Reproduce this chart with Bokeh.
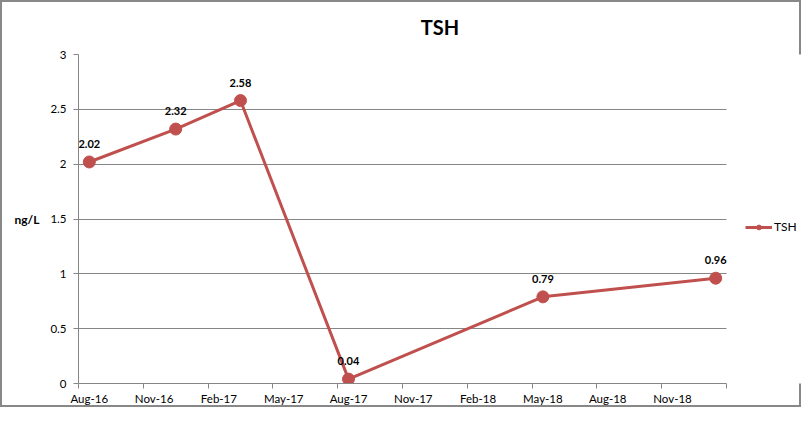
from bokeh.plotting import figure
from bokeh.models import (Range1d, FixedTicker, Legend, LegendItem,
                          ColumnDataSource)
from bokeh.core.properties import value
from bokeh.embed import file_html
from bokeh.resources import INLINE

# ---- data ----
sample_months = ["2016-08", "2016-12", "2017-03", "2017-08", "2018-05", "2019-01"]
tsh_values = [2.02, 2.32, 2.58, 0.04, 0.79, 0.96]
x_tick_labels = ["Aug-16", "Nov-16", "Feb-17", "May-17", "Aug-17",
                 "Nov-17", "Feb-18", "May-18", "Aug-18", "Nov-18"]
y_ticks = [0, 0.5, 1, 1.5, 2, 2.5, 3]
y_tick_labels = ["0", "0.5", "1", "1.5", "2", "2.5", "3"]
axis_start = (2016, 8)
axis_months = 30

def month_index(s):
    y, m = s.split("-")
    return (int(y) - axis_start[0]) * 12 + int(m) - axis_start[1]

xs = [month_index(s) + 0.5 for s in sample_months]
src = ColumnDataSource(dict(x=xs, y=tsh_values,
                            lbl=["%.2f" % v for v in tsh_values]))

RED = "#C0504D"
GRID = "#868686"
FONT = "Lato"

# layout: plot area 78..726 px for the 30 months; frame continues to the
# right edge so the legend can sit beside the axis without being clipped
W, H = 801, 407
LEFT, AXIS_LEN = 78, 648
x_end = axis_months * (W - LEFT) / AXIS_LEN

p = figure(width=W, height=H, output_backend="svg", toolbar_location=None,
           x_range=Range1d(0, x_end), y_range=Range1d(0, 3),
           min_border_left=LEFT, min_border_right=0, min_border_top=54,
           min_border_bottom=23, title="TSH")
p.outline_line_color = None
p.background_fill_color = "white"
p.border_fill_alpha = 0
p.styles = {"background": "white",
            "box-shadow": "inset 0 0 0 2px #888888"}

p.title.align = "center"
p.title.vertical_align = "top"
p.title.standoff = 28
p.title.background_fill_alpha = 0
p.title.text_font = FONT
p.title.text_font_size = "20px"
p.title.text_font_style = "bold"
p.title.text_color = "black"

# grid
p.xgrid.visible = False
p.ygrid.ticker = FixedTicker(ticks=y_ticks)
p.ygrid.grid_line_color = GRID
p.ygrid.grid_line_width = 1
p.ygrid.cross_bounds = (0, axis_months)

# y axis
ya = p.yaxis[0]
ya.ticker = FixedTicker(ticks=y_ticks)
ya.major_label_overrides = {t: l for t, l in zip(y_ticks, y_tick_labels)}
ya.axis_line_color = GRID
ya.major_tick_line_color = GRID
ya.major_tick_in = 0
ya.major_tick_out = 5
ya.minor_tick_line_color = None
ya.major_label_standoff = 7
ya.major_label_text_font = FONT
ya.major_label_text_font_size = "11.5px"
ya.major_label_text_color = "black"
ya.axis_label = "ng/L"
ya.axis_label_orientation = "horizontal"
ya.axis_label_text_font = FONT
ya.axis_label_text_font_size = "12px"
ya.axis_label_text_font_style = "bold"
ya.axis_label_text_color = "black"
ya.axis_label_standoff = 8

# x axis: labels centred in the month slot, tick marks at the slot edges
label_pos = [i * 3 + 0.5 for i in range(len(x_tick_labels))]
tick_pos = [i * 3 for i in range(len(x_tick_labels) + 1)]
xa = p.xaxis[0]
xa.bounds = (0, axis_months)
xa.ticker = FixedTicker(ticks=label_pos, minor_ticks=tick_pos)
xa.major_label_overrides = {t: l for t, l in zip(label_pos, x_tick_labels)}
xa.axis_line_color = GRID
xa.major_tick_line_color = None
xa.major_tick_in = 0
xa.major_tick_out = 0
xa.minor_tick_line_color = GRID
xa.minor_tick_in = 0
xa.minor_tick_out = 5
xa.major_label_standoff = 3
xa.major_label_text_font = FONT
xa.major_label_text_font_size = "11.5px"
xa.major_label_text_color = "black"

# series
lr = p.line("x", "y", source=src, line_color=RED, line_width=3)
sr = p.scatter("x", "y", source=src, size=12, fill_color=RED, line_color=RED)
p.text("x", "y", text="lbl", source=src, y_offset=-18, text_align="center",
       text_baseline="middle", text_font=value(FONT), text_font_size="11px",
       text_font_style="bold", text_color="black")

legend = Legend(items=[LegendItem(label="TSH", renderers=[lr, sr])],
                location=(667, 149), orientation="vertical")
legend.background_fill_alpha = 0
legend.border_line_color = None
legend.padding = 0
legend.margin = 0
legend.glyph_width = 27
legend.glyph_height = 12
legend.label_standoff = 2
legend.label_text_font = FONT
legend.label_text_font_size = "12px"
legend.label_text_color = "black"
p.add_layout(legend)

open("out.html", "w").write(file_html(p, INLINE))
